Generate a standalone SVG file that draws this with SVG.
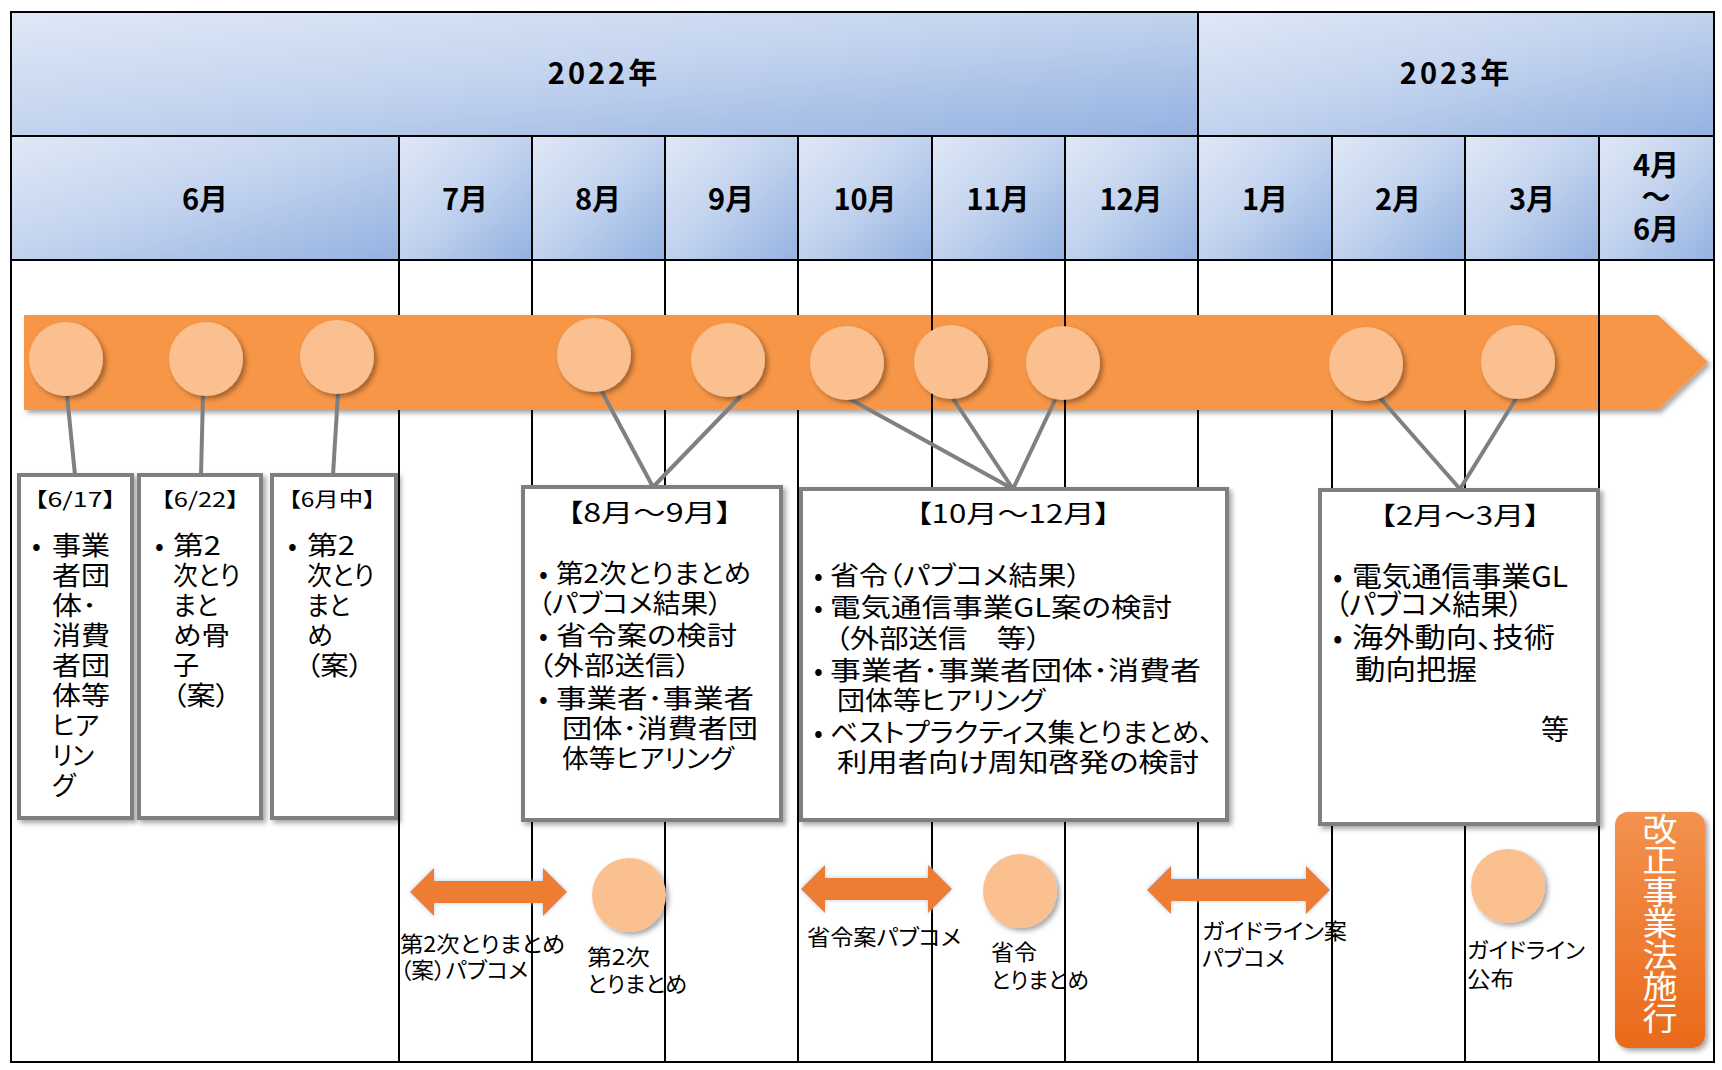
<svg xmlns="http://www.w3.org/2000/svg" width="1722" height="1070" viewBox="0 0 1722 1070">
<defs>
  <linearGradient id="hdr" x1="0" y1="0" x2="1" y2="1">
    <stop offset="0" stop-color="#DFE8F6"/>
    <stop offset="0.45" stop-color="#C5D5EF"/>
    <stop offset="1" stop-color="#94B2E1"/>
  </linearGradient>
  <linearGradient id="sekou" x1="0" y1="0" x2="0" y2="1">
    <stop offset="0" stop-color="#F3924F"/>
    <stop offset="1" stop-color="#EA6A1A"/>
  </linearGradient>
  <filter id="sh" x="-10%" y="-10%" width="130%" height="130%">
    <feDropShadow dx="3" dy="3" stdDeviation="2.5" flood-color="#000" flood-opacity="0.35"/>
  </filter>
  <filter id="glow" x="-10%" y="-20%" width="120%" height="140%">
    <feDropShadow dx="0" dy="0" stdDeviation="2" flood-color="#A9C4E6" flood-opacity="0.9"/>
  </filter>
</defs>
<style>
  .t{font-family:'Noto Sans CJK JP','Noto Sans',sans-serif;font-feature-settings:"palt";fill:#000}
  .h{font-weight:700;font-size:29px;text-anchor:middle}
  .cell{fill:url(#hdr);stroke:#000;stroke-width:2}
  .ln{stroke:#000;stroke-width:2;fill:none}
  .band{fill:#F79646}
  .dot{fill:#FAC090}
  .box{fill:#FFFFFF;stroke:#7F7F7F;stroke-width:4}
  .conn{stroke:#808080;stroke-width:4;fill:none}
  .arw{fill:#ED7D31}
  .s20{font-size:20px}
  .s22{font-size:22px}
  .s25{font-size:25px}
  .s26{font-size:26px}
  .s28{font-size:28px}
  .mid{text-anchor:middle}
  .sk{font-family:'Noto Sans CJK JP','Noto Sans',sans-serif;font-size:35px;fill:#FFFFFF;writing-mode:vertical-rl}
</style>

<rect x="0" y="0" width="1722" height="1070" fill="#FFFFFF"/>

<!-- header -->
<g id="header">
  <rect class="cell" x="11" y="12" width="1187" height="124"/>
  <rect class="cell" x="1198" y="12" width="516" height="124"/>
  <rect class="cell" x="11" y="136" width="388" height="124"/>
  <rect class="cell" x="399" y="136" width="133" height="124"/>
  <rect class="cell" x="532" y="136" width="133" height="124"/>
  <rect class="cell" x="665" y="136" width="133" height="124"/>
  <rect class="cell" x="798" y="136" width="134" height="124"/>
  <rect class="cell" x="932" y="136" width="133" height="124"/>
  <rect class="cell" x="1065" y="136" width="133" height="124"/>
  <rect class="cell" x="1198" y="136" width="134" height="124"/>
  <rect class="cell" x="1332" y="136" width="133" height="124"/>
  <rect class="cell" x="1465" y="136" width="134" height="124"/>
  <rect class="cell" x="1599" y="136" width="115" height="124"/>
  <text class="t h" x="604" y="84" letter-spacing="3">2022年</text>
  <text class="t h" x="1456" y="84" letter-spacing="3">2023年</text>
  <text class="t h" x="205" y="210">6月</text>
  <text class="t h" x="465" y="210">7月</text>
  <text class="t h" x="598" y="210">8月</text>
  <text class="t h" x="731" y="210">9月</text>
  <text class="t h" x="865" y="210">10月</text>
  <text class="t h" x="998" y="210">11月</text>
  <text class="t h" x="1131" y="210">12月</text>
  <text class="t h" x="1265" y="210">1月</text>
  <text class="t h" x="1398" y="210">2月</text>
  <text class="t h" x="1532" y="210">3月</text>
  <text class="t h"><tspan x="1656" y="176">4月</tspan><tspan x="1656" y="208">～</tspan><tspan x="1656" y="240">6月</tspan></text>
</g>

<!-- body grid -->
<g id="grid">
  <rect class="ln" x="11" y="260" width="1703" height="802"/>
  <path class="ln" d="M399,260V1062M532,260V1062M665,260V1062M798,260V1062M932,260V1062M1065,260V1062M1198,260V1062M1332,260V1062M1465,260V1062M1599,260V1062"/>
</g>

<!-- timeline band -->
<g id="timeline">
  <path class="band" filter="url(#sh)" d="M24,315H1658L1708,362L1658,410H24Z"/>
  <path class="ln" d="M932,315V410M1065,315V410M1599,315V410"/>
</g>

<!-- connectors -->
<g id="connectors">
  <line class="conn" x1="67" y1="395" x2="75" y2="475"/>
  <line class="conn" x1="203" y1="395" x2="201" y2="475"/>
  <line class="conn" x1="338" y1="393" x2="333" y2="475"/>
  <line class="conn" x1="601" y1="390" x2="653" y2="487"/>
  <line class="conn" x1="741" y1="396" x2="653" y2="487"/>
  <line class="conn" x1="848" y1="398" x2="1013" y2="489"/>
  <line class="conn" x1="952" y1="397" x2="1013" y2="489"/>
  <line class="conn" x1="1056" y1="398" x2="1013" y2="489"/>
  <line class="conn" x1="1380" y1="398" x2="1460" y2="489"/>
  <line class="conn" x1="1517" y1="397" x2="1460" y2="489"/>
</g>

<!-- milestone circles on band -->
<g id="m-0617"><circle class="dot" filter="url(#sh)" cx="66" cy="359" r="37"/></g>
<g id="m-0622"><circle class="dot" filter="url(#sh)" cx="206" cy="359" r="37"/></g>
<g id="m-06mid"><circle class="dot" filter="url(#sh)" cx="337" cy="357" r="37"/></g>
<g id="m-08"><circle class="dot" filter="url(#sh)" cx="594" cy="355" r="37"/></g>
<g id="m-09"><circle class="dot" filter="url(#sh)" cx="728" cy="360" r="37"/></g>
<g id="m-10"><circle class="dot" filter="url(#sh)" cx="847" cy="363" r="37"/></g>
<g id="m-11"><circle class="dot" filter="url(#sh)" cx="951" cy="362" r="37"/></g>
<g id="m-12"><circle class="dot" filter="url(#sh)" cx="1063" cy="363" r="37"/></g>
<g id="m-02"><circle class="dot" filter="url(#sh)" cx="1366" cy="364" r="37"/></g>
<g id="m-03"><circle class="dot" filter="url(#sh)" cx="1518" cy="362" r="37"/></g>

<!-- box 6/17 -->
<g id="box-0617">
  <rect class="box" filter="url(#sh)" x="19" y="475" width="113" height="343"/>
  <text class="t s20 mid" x="75" y="507" textLength="82" lengthAdjust="spacingAndGlyphs">【6/17】</text>
  <text class="t s26"><tspan x="32" y="555">•</tspan><tspan x="52" y="555" textLength="58" lengthAdjust="spacingAndGlyphs">事業</tspan><tspan x="52" y="585" textLength="58" lengthAdjust="spacingAndGlyphs">者団</tspan><tspan x="52" y="615" textLength="45" lengthAdjust="spacingAndGlyphs">体･</tspan><tspan x="52" y="645" textLength="58" lengthAdjust="spacingAndGlyphs">消費</tspan><tspan x="52" y="675" textLength="58" lengthAdjust="spacingAndGlyphs">者団</tspan><tspan x="52" y="705" textLength="58" lengthAdjust="spacingAndGlyphs">体等</tspan><tspan x="52" y="735" textLength="47" lengthAdjust="spacingAndGlyphs">ヒア</tspan><tspan x="52" y="765" textLength="42" lengthAdjust="spacingAndGlyphs">リン</tspan><tspan x="52" y="795">グ</tspan></text>
</g>

<!-- box 6/22 -->
<g id="box-0622">
  <rect class="box" filter="url(#sh)" x="139" y="475" width="122" height="343"/>
  <text class="t s20 mid" x="200" y="507" textLength="78" lengthAdjust="spacingAndGlyphs">【6/22】</text>
  <text class="t s26"><tspan x="155" y="555">•</tspan><tspan x="173" y="555" textLength="48" lengthAdjust="spacingAndGlyphs">第2</tspan><tspan x="173" y="585" textLength="67" lengthAdjust="spacingAndGlyphs">次とり</tspan><tspan x="173" y="615" textLength="45" lengthAdjust="spacingAndGlyphs">まと</tspan><tspan x="173" y="645" textLength="57" lengthAdjust="spacingAndGlyphs">め骨</tspan><tspan x="173" y="675">子</tspan><tspan x="172" y="705" textLength="58" lengthAdjust="spacingAndGlyphs">（案）</tspan></text>
</g>

<!-- box 6月中 -->
<g id="box-06mid">
  <rect class="box" filter="url(#sh)" x="272" y="475" width="124" height="343"/>
  <text class="t s20 mid" x="332" y="507" textLength="87" lengthAdjust="spacingAndGlyphs">【6月中】</text>
  <text class="t s26"><tspan x="288" y="555">•</tspan><tspan x="307" y="555" textLength="48" lengthAdjust="spacingAndGlyphs">第2</tspan><tspan x="307" y="585" textLength="67" lengthAdjust="spacingAndGlyphs">次とり</tspan><tspan x="307" y="615" textLength="43" lengthAdjust="spacingAndGlyphs">まと</tspan><tspan x="307" y="645">め</tspan><tspan x="306" y="675" textLength="57" lengthAdjust="spacingAndGlyphs">（案）</tspan></text>
</g>

<!-- box 8月～9月 -->
<g id="box-08-09">
  <rect class="box" filter="url(#sh)" x="523" y="487" width="258" height="333"/>
  <text class="t s25" x="567" y="522" textLength="165" lengthAdjust="spacingAndGlyphs">【8月～9月】</text>
  <text class="t s26"><tspan x="539" y="583">•</tspan><tspan x="556" y="583" textLength="195" lengthAdjust="spacingAndGlyphs">第2次とりまとめ</tspan><tspan x="538" y="613" textLength="184" lengthAdjust="spacingAndGlyphs">（パブコメ結果）</tspan><tspan x="539" y="645">•</tspan><tspan x="556" y="645" textLength="181" lengthAdjust="spacingAndGlyphs">省令案の検討</tspan><tspan x="538" y="675" textLength="153" lengthAdjust="spacingAndGlyphs">（外部送信）</tspan><tspan x="539" y="708">•</tspan><tspan x="556" y="708" textLength="198" lengthAdjust="spacingAndGlyphs">事業者･事業者</tspan><tspan x="562" y="738" textLength="196" lengthAdjust="spacingAndGlyphs">団体･消費者団</tspan><tspan x="562" y="768" textLength="172" lengthAdjust="spacingAndGlyphs">体等ヒアリング</tspan></text>
</g>

<!-- box 10月～12月 -->
<g id="box-10-12">
  <rect class="box" filter="url(#sh)" x="801" y="489" width="426" height="331"/>
  <text class="t s25" x="916" y="523" textLength="194" lengthAdjust="spacingAndGlyphs">【10月～12月】</text>
  <text class="t s26"><tspan x="814" y="585">•</tspan><tspan x="830" y="585" textLength="251" lengthAdjust="spacingAndGlyphs">省令（パブコメ結果）</tspan><tspan x="814" y="617">•</tspan><tspan x="830" y="617" textLength="342" lengthAdjust="spacingAndGlyphs">電気通信事業GL案の検討</tspan><tspan x="835" y="648" textLength="206" lengthAdjust="spacingAndGlyphs">（外部送信　等）</tspan><tspan x="814" y="680">•</tspan><tspan x="830" y="680" textLength="371" lengthAdjust="spacingAndGlyphs">事業者･事業者団体･消費者</tspan><tspan x="837" y="710" textLength="208" lengthAdjust="spacingAndGlyphs">団体等ヒアリング</tspan><tspan x="814" y="742">•</tspan><tspan x="830" y="742" textLength="383" lengthAdjust="spacingAndGlyphs">ベストプラクティス集とりまとめ、</tspan><tspan x="837" y="772" textLength="362" lengthAdjust="spacingAndGlyphs">利用者向け周知啓発の検討</tspan></text>
</g>

<!-- box 2月～3月 -->
<g id="box-02-03">
  <rect class="box" filter="url(#sh)" x="1320" y="490" width="278" height="334"/>
  <text class="t s25" x="1380" y="525" textLength="160" lengthAdjust="spacingAndGlyphs">【2月～3月】</text>
  <text class="t s28"><tspan x="1333" y="587">•</tspan><tspan x="1352" y="587" textLength="216" lengthAdjust="spacingAndGlyphs">電気通信事業GL</tspan><tspan x="1335" y="615" textLength="188" lengthAdjust="spacingAndGlyphs">（パブコメ結果）</tspan><tspan x="1333" y="648">•</tspan><tspan x="1352" y="648" textLength="203" lengthAdjust="spacingAndGlyphs">海外動向、技術</tspan><tspan x="1355" y="680" textLength="122" lengthAdjust="spacingAndGlyphs">動向把握</tspan></text>
  <text class="t s28" x="1541" y="740">等</text>
</g>

<!-- public comment: 第2次とりまとめ（案） -->
<g id="pc-2nd">
  <path class="arw" filter="url(#glow)" d="M410,892L434,868V881H543V868L567,892L543,916V903H434V916Z"/>
  <text class="t s22"><tspan x="400" y="952" textLength="165" lengthAdjust="spacingAndGlyphs">第2次とりまとめ</tspan><tspan x="400" y="978" textLength="128" lengthAdjust="spacingAndGlyphs">（案）パブコメ</tspan></text>
</g>
<g id="ev-2nd">
  <circle class="dot" filter="url(#sh)" cx="629" cy="895" r="37"/>
  <text class="t s22"><tspan x="587" y="965" textLength="63" lengthAdjust="spacingAndGlyphs">第2次</tspan><tspan x="587" y="992" textLength="100" lengthAdjust="spacingAndGlyphs">とりまとめ</tspan></text>
</g>

<!-- public comment: 省令案 -->
<g id="pc-ordinance">
  <path class="arw" filter="url(#glow)" d="M801,889L825,865V878H928V865L952,889L928,913V900H825V913Z"/>
  <text class="t s22" x="807" y="945" textLength="154" lengthAdjust="spacingAndGlyphs">省令案パブコメ</text>
</g>
<g id="ev-ordinance">
  <circle class="dot" filter="url(#sh)" cx="1020" cy="891" r="37"/>
  <text class="t s22"><tspan x="991" y="960" textLength="46" lengthAdjust="spacingAndGlyphs">省令</tspan><tspan x="991" y="988" textLength="98" lengthAdjust="spacingAndGlyphs">とりまとめ</tspan></text>
</g>

<!-- public comment: ガイドライン案 -->
<g id="pc-guideline">
  <path class="arw" filter="url(#glow)" d="M1147,890L1171,866V879H1306V866L1330,890L1306,914V901H1171V914Z"/>
  <text class="t s22"><tspan x="1202" y="939" textLength="145" lengthAdjust="spacingAndGlyphs">ガイドライン案</tspan><tspan x="1202" y="966" textLength="83" lengthAdjust="spacingAndGlyphs">パブコメ</tspan></text>
</g>
<g id="ev-guideline">
  <circle class="dot" filter="url(#sh)" cx="1508" cy="886" r="37"/>
  <text class="t s22"><tspan x="1467" y="958" textLength="118" lengthAdjust="spacingAndGlyphs">ガイドライン</tspan><tspan x="1467" y="987" textLength="47" lengthAdjust="spacingAndGlyphs">公布</tspan></text>
</g>

<!-- enforcement -->
<g id="enforcement">
  <rect x="1615" y="812" width="90" height="236" rx="13" fill="url(#sekou)" filter="url(#sh)"/>
  <g transform="translate(1660,813) scale(1,0.9)">
    <text class="sk" x="0" y="0">改正事業法施行</text>
  </g>
</g>
</svg>
